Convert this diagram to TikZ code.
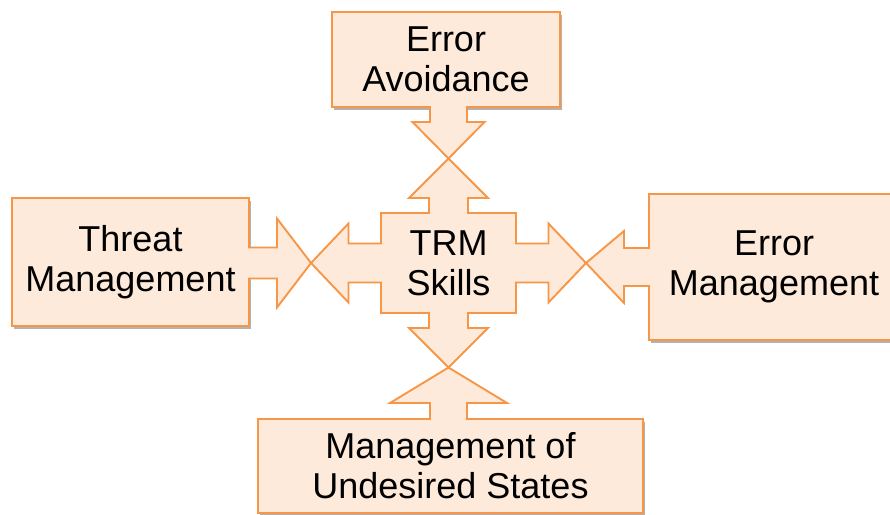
\documentclass[tikz,border=0pt]{standalone}
\usepackage{fontspec}
\setmainfont{Liberation Sans}
\usepackage{tikz}
\usetikzlibrary{calc,%
		positioning,%
		shadows}
\definecolor{arancio}{HTML}{F79646}
\definecolor{pesca}{HTML}{FDEADA}
\tikzset{
  blocco/.style={draw=arancio, fill=pesca, line width=1.9pt, inner sep=0pt,
    align=center, font=\fontsize{36}{40}\selectfont,
    drop shadow={shadow xshift=2pt, shadow yshift=-2.5pt, opacity=.3, fill=black}},
  freccia/.style={draw=arancio, fill=pesca, line width=1.9pt, line join=miter},
  testo/.style={align=center, font=\fontsize{36}{40}\selectfont}
}
\begin{document}
\begin{tikzpicture}[x=1pt,y=-1pt]
\useasboundingbox (0,0) rectangle (890,514);
\clip (0,0) rectangle (890,514);
%riquadri
\node[blocco, minimum width=228pt, minimum height=95pt] (avoid) at (446,59.5) {Error\\Avoidance};
\node[blocco, minimum width=237pt, minimum height=128pt] (threat) at (130.5,262) {Threat\\Management};
\node[blocco, minimum width=250pt, minimum height=146pt] (errman) at (774,267) {Error\\Management};
\node[blocco, minimum width=385pt, minimum height=94pt] (undes) at (450.5,466) {Management of\\Undesired States};
%punte
\coordinate (c) at (448.5,263);
\coordinate (tipN) at ($(c)+(0,-104.5)$);
\coordinate (tipS) at ($(c)+(0,104.5)$);
\coordinate (tipW) at ($(c)+(-137.5,0)$);
\coordinate (tipE) at ($(c)+(137.5,0)$);
%frecce dai riquadri
\filldraw[freccia] (tipN) ++(-18.5,-52.5) -- ++(0,16) -- ++(-17.5,0) -- (tipN) -- ++(36,-36.5) -- ++(-17.5,0) -- ++(0,-16);
\filldraw[freccia] (tipW) ++(-63,-15.5) -- ++(29,0) -- ++(0,-29) -- (tipW) -- ++(-34,44.5) -- ++(0,-29) -- ++(-29,0);
\filldraw[freccia] (tipE) ++(64,-15) -- ++(-26,0) -- ++(0,-17) -- (tipE) -- ++(38,40) -- ++(0,-17) -- ++(26,0);
\filldraw[freccia] (tipS) ++(-18.5,52.5) -- ++(0,-17) -- ++(-40,0) -- (tipS) -- ++(58.5,35.5) -- ++(-40,0) -- ++(0,17);
%freccia a quattro punte
\begin{scope}[shift={(c)}]
\filldraw[freccia] (-19.5,-50) -- (-19.5,-65) -- (-39.5,-65) -- (0,-104.5) -- (39.5,-65) -- (19.5,-65) -- (19.5,-50)
  -- (67.5,-50) -- (67.5,-19.5) -- (100,-19.5) -- (100,-39.5) -- (137.5,0) -- (100,39.5) -- (100,19.5) -- (67.5,19.5)
  -- (67.5,50) -- (19.5,50) -- (19.5,65) -- (39.5,65) -- (0,104.5) -- (-39.5,65) -- (-19.5,65) -- (-19.5,50)
  -- (-67.5,50) -- (-67.5,19.5) -- (-100,19.5) -- (-100,39.5) -- (-137.5,0) -- (-100,-39.5) -- (-100,-19.5) -- (-67.5,-19.5)
  -- (-67.5,-50) -- cycle;
\end{scope}
\node[testo] (trm) at (c) {TRM\\Skills};
\end{tikzpicture}
\end{document}
